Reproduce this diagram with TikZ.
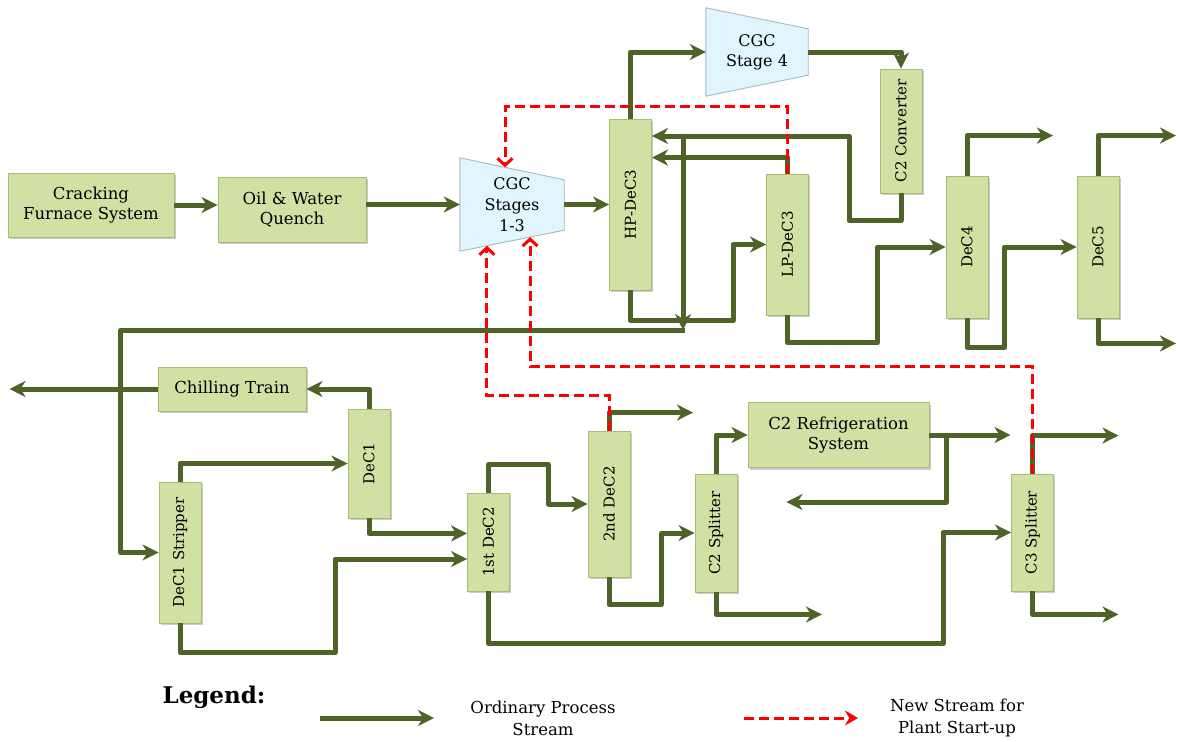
\documentclass[tikz,border=0pt]{standalone}
\usepackage{fontspec}
\setmainfont{DejaVu Serif}
\usepackage{graphicx}
\usetikzlibrary{calc,arrows.meta,shadows,backgrounds,positioning}
\definecolor{olivedark}{RGB}{79,98,40}
\definecolor{unitfill}{RGB}{208,225,163}
\definecolor{unitedge}{RGB}{168,189,116}
\definecolor{cgcfill}{RGB}{224,245,253}
\definecolor{cgcedge}{RGB}{165,185,195}
\definecolor{startred}{RGB}{255,0,0}

\tikzset{
  unit/.style={draw=unitedge, fill=unitfill, line width=0.9pt, inner sep=0pt,
    drop shadow={shadow xshift=1.5pt, shadow yshift=-2pt, opacity=0.4},
    align=center, font=\fontsize{16.5}{20}\selectfont},
  column/.style={unit, minimum width=42pt, minimum height=#1,
    font=\fontsize{15}{17}\selectfont},
  compressor/.style={draw=cgcedge, fill=cgcfill, line width=0.9pt},
  stream/.style={draw=olivedark, line width=5pt, line join=round,
    -{Stealth[length=16pt, width=16pt, inset=5pt]}},
  startup/.style={draw=startred, line width=3pt, dash pattern=on 10pt off 5pt,
    -{Straight Barb[length=7pt, width=15pt]}},
  legendtext/.style={align=center, font=\fontsize{16.5}{22}\selectfont}
}

\begin{document}
\begin{tikzpicture}[x=1pt, y=-1pt]
    \useasboundingbox (0,0) rectangle (1179,742);

    % upper train
    \node[unit, minimum width=166pt, minimum height=64pt] (furnace) at (91,205) {Cracking\\Furnace System};
    \node[unit, minimum width=148pt, minimum height=65pt] (quench) at (292,209.5) {Oil \& Water\\Quench};
    \node[minimum width=104pt, minimum height=93pt, inner sep=0pt, align=center,
      font=\fontsize{16}{21}\selectfont] (cgc) at (512,204.5) {CGC\\Stages\\1-3};
    \node[minimum width=102pt, minimum height=88pt, inner sep=0pt, align=center,
      font=\fontsize{16}{20}\selectfont] (cgc4) at (757,52) {CGC\\Stage 4};
    \node[column=171pt] (hpdec3) at (630.5,204.5) {\rotatebox{90}{HP-DeC3}};
    \node[column=141pt] (lpdec3) at (787.5,244.5) {\rotatebox{90}{LP-DeC3}};
    \node[column=124pt] (conv) at (901,131) {\rotatebox{90}{C2 Converter}};
    \node[column=142pt] (dec4) at (967,247) {\rotatebox{90}{DeC4}};
    \node[column=142pt] (dec5) at (1098,247) {\rotatebox{90}{DeC5}};

    % lower train
    \node[unit, minimum width=148pt, minimum height=44pt] (chill) at (232,389) {Chilling Train};
    \node[unit, minimum width=181pt, minimum height=65pt] (refrig) at (838.5,435) {C2 Refrigeration\\System};
    \node[column=109pt] (dec1) at (369,463.5) {\rotatebox{90}{DeC1}};
    \node[column=141pt] (strip) at (180,552.5) {\rotatebox{90}{DeC1 Stripper}};
    \node[column=98pt] (dec2a) at (488.5,542) {\rotatebox{90}{1st DeC2}};
    \node[column=146pt] (dec2b) at (609,504) {\rotatebox{90}{2nd DeC2}};
    \node[column=118pt] (c2split) at (716,533) {\rotatebox{90}{C2 Splitter}};
    \node[column=117pt] (c3split) at (1032.5,532.5) {\rotatebox{90}{C3 Splitter}};

    \coordinate (cgctr) at ($(cgc.north east)+(0,22)$);
    \coordinate (cgcbr) at ($(cgc.south east)+(0,-21)$);
    \begin{pgfonlayer}{background}
      \fill[white] (0,0) rectangle (1179,742);
      \draw[compressor] (cgc.north west) -- (cgctr) -- (cgcbr) -- (cgc.south west) -- cycle;
      \draw[compressor] (cgc4.north west) -- ($(cgc4.north east)+(0,21)$) --
        ($(cgc4.south east)+(0,-21)$) -- (cgc4.south west) -- cycle;
    \end{pgfonlayer}

    % process streams
    \draw[stream] (furnace.east) -- (furnace.east -| quench.west);
    \draw[stream] (quench.east |- cgc.west) -- (cgc.west);
    \draw[stream] (cgc.east) -- (cgc.east -| hpdec3.west);
    \draw[stream] (hpdec3.north) |- (cgc4.west);
    \draw[stream] (cgc4.east) -| (conv.north);
    \coordinate (recycle) at (849,136);
    \draw[stream] (conv.south) -- ++(0,27) -| (recycle) -- (recycle -| hpdec3.east);
    \coordinate (drop) at (683,136);
    \draw[stream] (drop) -- ++(0,194) coordinate (dropend);
    \draw[stream] ([xshift=2pt]dropend) -| ([xshift=-38pt]strip.west) -- (strip.west);
    \draw[stream] (lpdec3.north) -- ++(0,-16) coordinate (lptop) -- (lptop -| hpdec3.east);
    \draw[stream] (hpdec3.south) -- ++(0,30) -| ([xshift=-33pt]lpdec3.west) -- (lpdec3.west);
    \draw[stream] (lpdec3.south) -- ++(0,27) -| ([xshift=-68pt]dec4.west) -- (dec4.west);
    \draw[stream] (dec4.north) -- ++(0,-40) -- ++(86,0);
    \draw[stream] (dec4.south) -- ++(0,29) -| ([xshift=-72pt]dec5.west) -- (dec5.west);
    \draw[stream] (dec5.north) -- ++(0,-40) -- ++(78,0);
    \draw[stream] (dec5.south) -- ++(0,25) -- ++(78,0);

    \draw[stream] (dec1.north) |- (chill.east);
    \draw[stream] (chill.west) -- ++(-148,0);
    \draw[stream] (strip.north) |- (dec1.west);
    \draw[stream] (dec1.south) -- ++(0,15) coordinate (dec1out) -- (dec1out -| dec2a.west);
    \coordinate (bypass) at (335,559);
    \draw[stream] (strip.south) -- ++(0,29) -| (bypass) -- (bypass -| dec2a.west);
    \draw[stream] (dec2a.north) -- ++(0,-28) -| ([xshift=-39pt]dec2b.west) -- (dec2b.west);
    \draw[stream] (dec2a.south) -- ++(0,52) -| ([xshift=-68pt]c3split.west) -- (c3split.west);
    \draw[stream] (dec2b.north) -- ++(0,-18) -- ++(84,0);
    \draw[stream] (dec2b.south) -- ++(0,27) -| ([xshift=-33pt]c2split.west) -- (c2split.west);
    \draw[stream] (c2split.north) |- (refrig.west);
    \draw[stream] (refrig.east) -- ++(81,0);
    \draw[stream] ([xshift=17pt]refrig.east) -- ++(0,67) -- ++(-160,0);
    \draw[stream] (c2split.south) -- ++(0,22) -- ++(106,0);
    \draw[stream] (c3split.north) -- ++(0,-38) -- ++(86,0);
    \draw[stream] (c3split.south) -- ++(0,23) -- ++(86,0);

    % start-up streams
    \draw[startup] (lpdec3.north) -- ++(0,-67) -| ($(cgc.north west)!0.433!(cgctr)$);
    \draw[startup] (dec2b.north) -- ++(0,-35) -| ($(cgc.south west)!0.26!(cgcbr)$);
    \draw[startup] (c3split.north) -- ++(0,-107) -| ($(cgc.south west)!0.673!(cgcbr)$);

    % legend
    \node[font=\fontsize{23}{26}\selectfont\bfseries] (legend) at (214,697) {Legend:};
    \node[legendtext] (ordtext) at (543,718) {Ordinary Process\\Stream};
    \node[legendtext] (newtext) at (957,718) {New Stream for\\Plant Start-up};
    \coordinate (ordA) at (320,718);
    \coordinate (newA) at (744,718);
    \draw[stream] (ordA) -- ++(114,0);
    \draw[startup, -{Stealth[length=13pt, width=15pt]}] (newA) -- ++(114,0);
\end{tikzpicture}
\end{document}
